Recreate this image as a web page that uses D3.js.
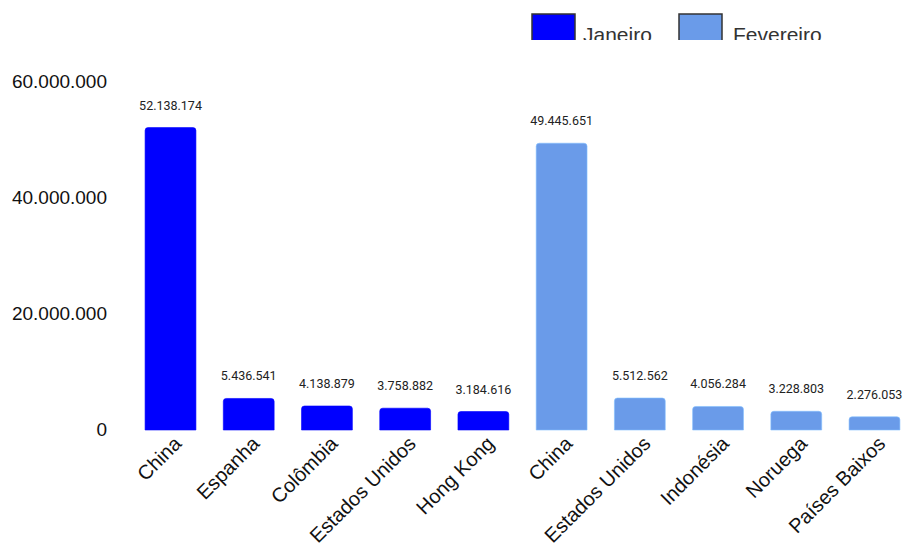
<!DOCTYPE html>
<html>
<head>
<meta charset="utf-8">
<script src="https://cdn.jsdelivr.net/npm/d3@7"></script>
<style>
  html, body { margin: 0; padding: 0; background: #fff; }
  svg { display: block; }
</style>
</head>
<body>
<svg id="chart" width="905" height="547"></svg>
<script>
// Export destinations per month (values in the chart's units)
const categories = ["China", "Espanha", "Colômbia", "Estados Unidos", "Hong Kong",
                    "China", "Estados Unidos", "Indonésia", "Noruega", "Países Baixos"];
const months = ["Janeiro", "Janeiro", "Janeiro", "Janeiro", "Janeiro",
                "Fevereiro", "Fevereiro", "Fevereiro", "Fevereiro", "Fevereiro"];
const values = [52138174, 5436541, 4138879, 3758882, 3184616,
                49445651, 5512562, 4056284, 3228803, 2276053];
const legendLabels = ["Janeiro", "Fevereiro"];
const yTicks = [0, 20000000, 40000000, 60000000];

const colors = { "Janeiro": "#0000ff", "Fevereiro": "#6a9be9" };
const fmt = d3.formatLocale({ decimal: ",", thousands: ".", grouping: [3], currency: ["", ""] }).format(",d");

const svg = d3.select("#chart");

const x = d3.scaleBand()
  .domain(d3.range(categories.length))
  .range([131.4, 913.6])
  .paddingInner(0.35)
  .paddingOuter(0.175);

const y = d3.scaleLinear().domain([0, 60000000]).range([430, 82]);

// y axis labels (no line, no ticks)
const yAxis = svg.append("g")
  .attr("transform", "translate(107,0)")
  .call(d3.axisLeft(y).tickValues(yTicks).tickFormat(fmt).tickSize(0).tickPadding(0));
yAxis.select(".domain").remove();
yAxis.selectAll("text")
  .attr("font-family", "Liberation Sans, Arial, sans-serif")
  .attr("font-size", 19)
  .attr("fill", "#111")
  .attr("dy", "0.3em");

// bars with rounded tops
const r = 3;
function barPath(x0, w, yTop, yBase) {
  const h = yBase - yTop;
  const rr = Math.min(r, h / 2, w / 2);
  return `M${x0},${yBase}V${yTop + rr}Q${x0},${yTop} ${x0 + rr},${yTop}` +
         `H${x0 + w - rr}Q${x0 + w},${yTop} ${x0 + w},${yTop + rr}V${yBase}Z`;
}

svg.append("g").selectAll("path")
  .data(values)
  .join("path")
  .attr("d", (d, i) => barPath(x(i), x.bandwidth(), y(d), y(0)))
  .attr("fill", (d, i) => colors[months[i]])
  .attr("stroke", (d, i) => d3.color(colors[months[i]]).brighter(0.6))
  .attr("stroke-width", 0.6);

// value labels
svg.append("g").selectAll("text")
  .data(values)
  .join("text")
  .attr("x", (d, i) => x(i) + x.bandwidth() / 2)
  .attr("y", d => y(d) - 18)
  .attr("text-anchor", "middle")
  .attr("font-family", "Roboto, sans-serif")
  .attr("font-size", 12.5)
  .attr("fill", "#222")
  .text(d => fmt(d));

// rotated category labels
svg.append("g").selectAll("text")
  .data(categories)
  .join("text")
  .attr("transform", (d, i) => `translate(${x(i) + x.bandwidth() / 2 + 12},${445}) rotate(-45)`)
  .attr("text-anchor", "end")
  .attr("font-family", "Liberation Sans, Arial, sans-serif")
  .attr("font-size", 20)
  .attr("fill", "#111")
  .text(d => d);

// legend, clipped along its lower edge
svg.append("defs").append("clipPath").attr("id", "legclip")
  .append("rect").attr("x", 0).attr("y", 0).attr("width", 905).attr("height", 40);

const legend = svg.append("g").attr("clip-path", "url(#legclip)");
const legBoxX = [532, 679];
const legTextX = [583, 733];
legendLabels.forEach((lab, i) => {
  legend.append("rect")
    .attr("x", legBoxX[i]).attr("y", 14)
    .attr("width", 43).attr("height", 30)
    .attr("fill", colors[lab])
    .attr("stroke", "#333").attr("stroke-width", 1.5);
  legend.append("text")
    .attr("x", legTextX[i]).attr("y", 42)
    .attr("font-family", "Liberation Sans, Arial, sans-serif")
    .attr("font-size", 21)
    .attr("fill", "#333")
    .text(lab);
});
</script>
</body>
</html>
